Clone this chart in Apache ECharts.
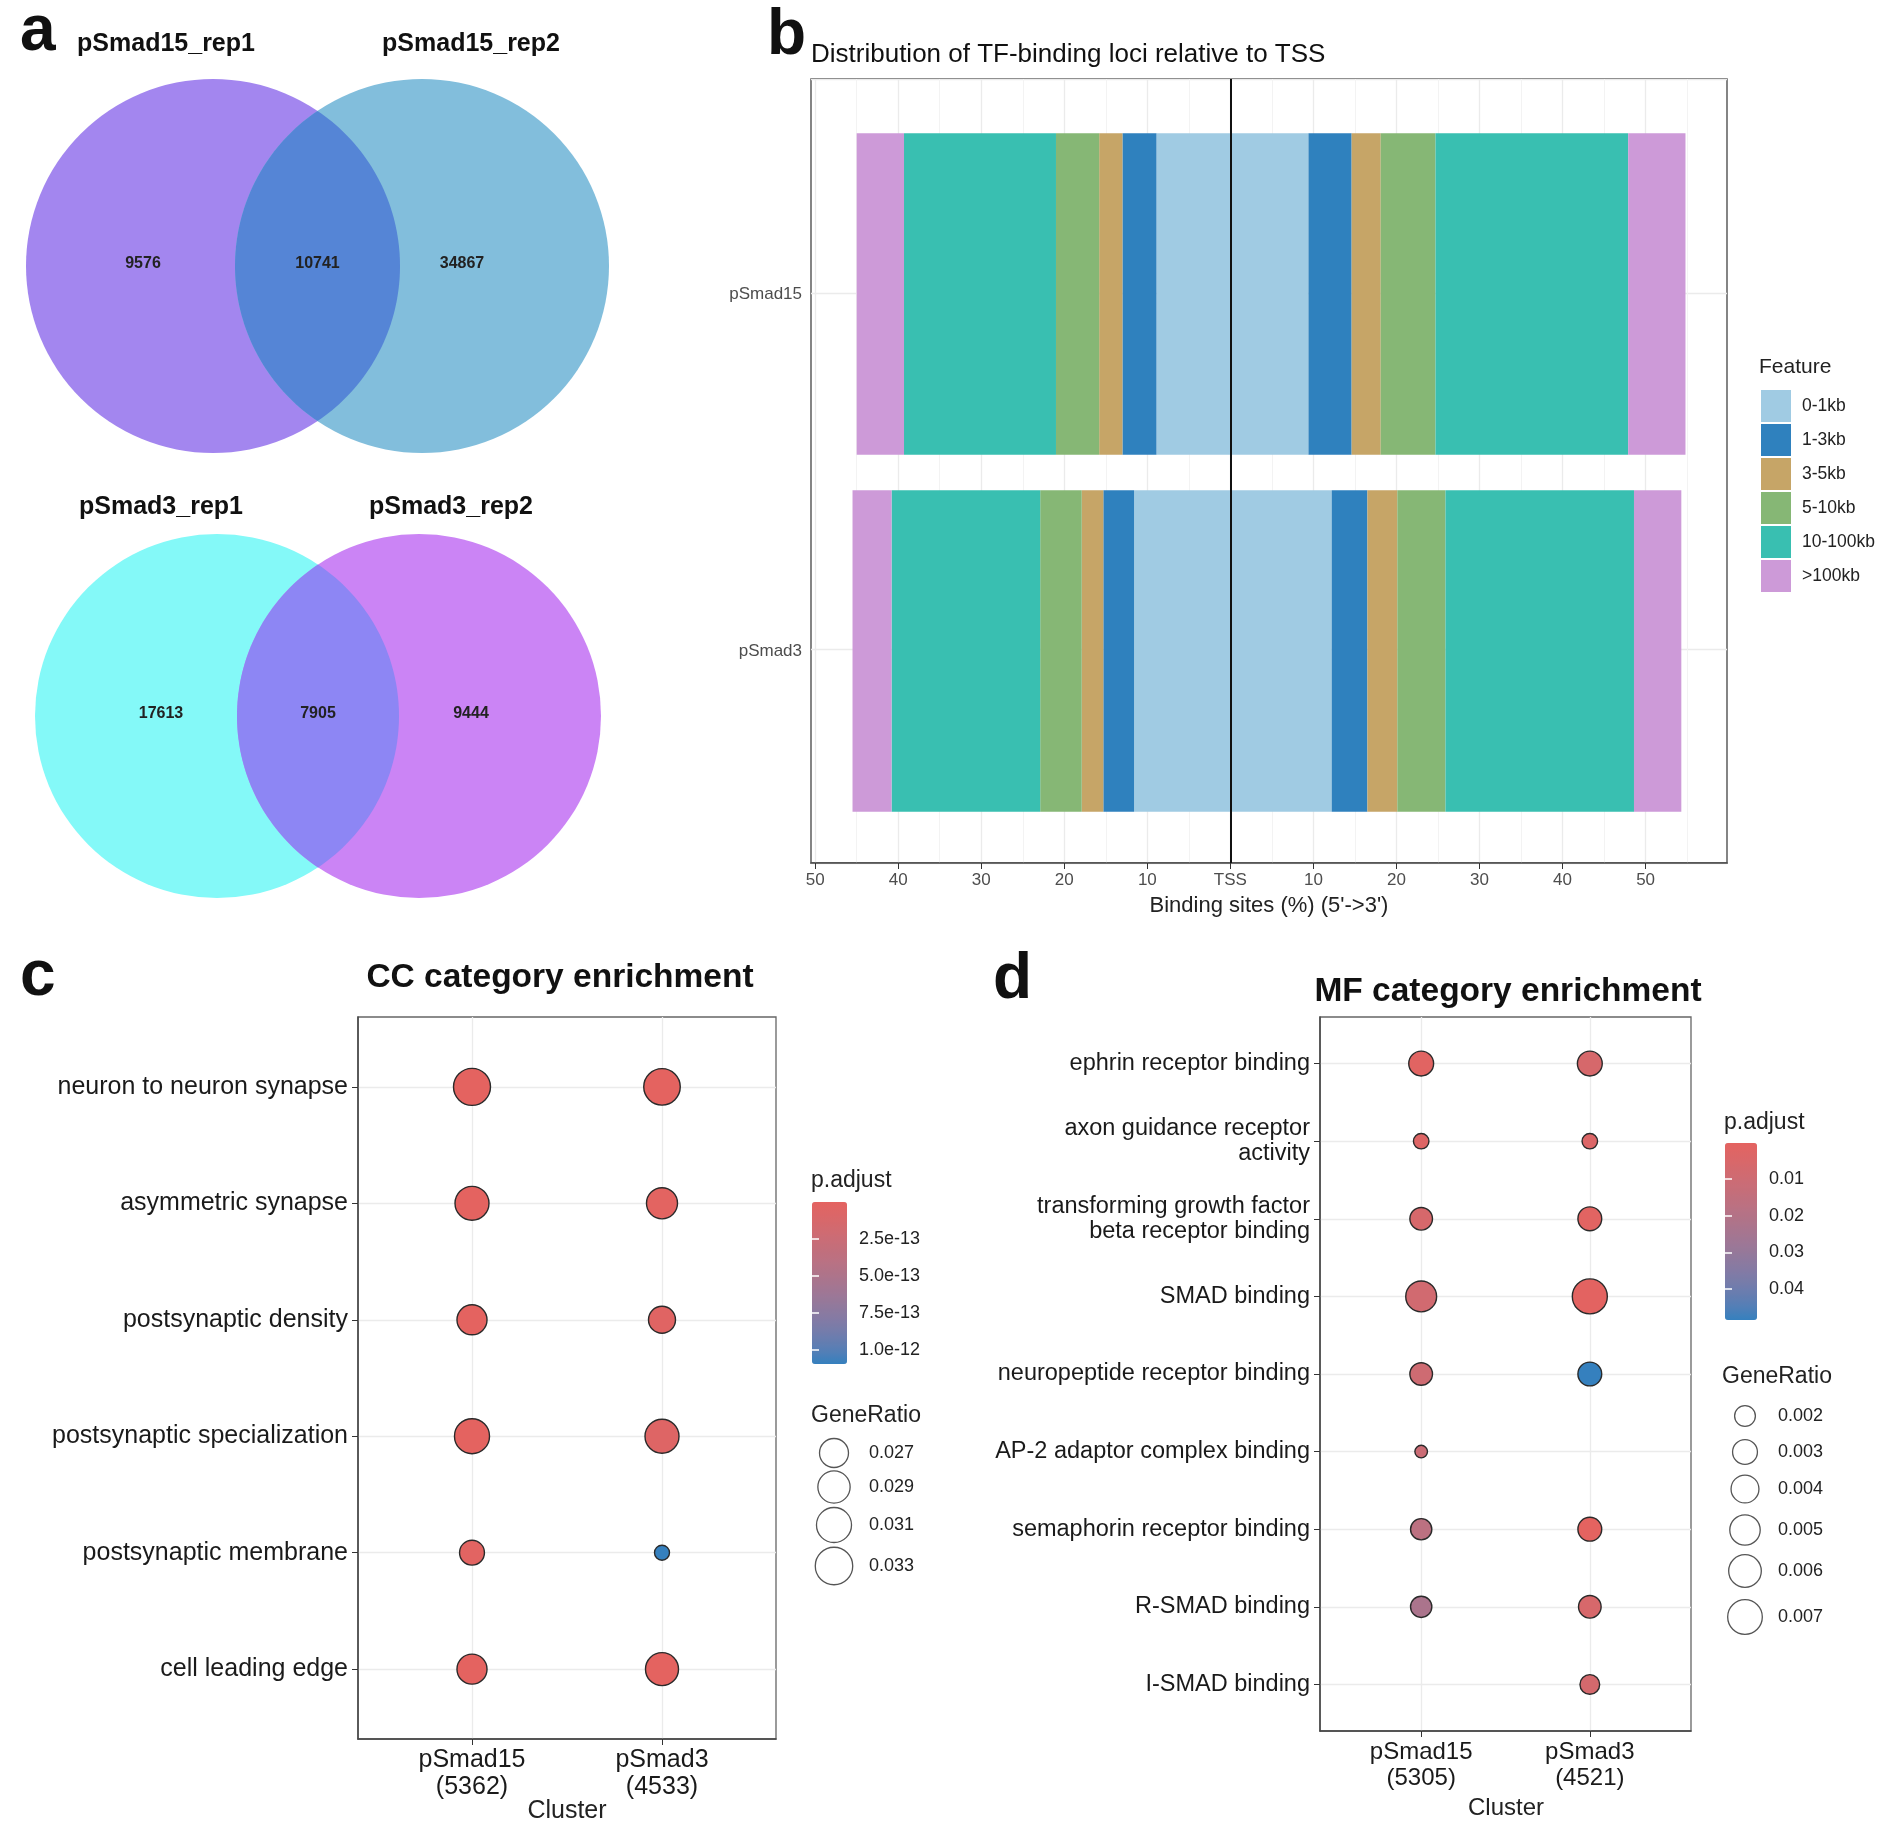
<!DOCTYPE html>
<html><head><meta charset="utf-8">
<script src="https://cdn.jsdelivr.net/npm/echarts@6/dist/echarts.min.js"></script>
<style>html,body{margin:0;padding:0;background:#fff}#c{width:1888px;height:1824px}</style>
</head><body><div id="c"></div>
<script>
// ================= DATA =================
// a: Venn counts [left only, shared, right only]
const vennTopSets = ['pSmad15_rep1', 'pSmad15_rep2'];
const vennTopCounts = [9576, 10741, 34867];
const vennBottomSets = ['pSmad3_rep1', 'pSmad3_rep2'];
const vennBottomCounts = [17613, 7905, 9444];

// b: binding sites (%) relative to TSS, per feature
const tssSamples = ['pSmad15', 'pSmad3'];
const tssFeatures = ['0-1kb', '1-3kb', '3-5kb', '5-10kb', '10-100kb', '>100kb'];
const tssUpPSmad15   = [8.9, 4.1, 2.8, 5.2, 18.3, 5.7];   // 5' (upstream)
const tssDownPSmad15 = [9.4, 5.2, 3.5, 6.6, 23.2, 6.9];   // 3' (downstream)
const tssUpPSmad3    = [11.6, 3.7, 2.6, 5.0, 17.9, 4.7];
const tssDownPSmad3  = [12.2, 4.3, 3.6, 5.8, 22.7, 5.7];
const tssTicks = [-50, -40, -30, -20, -10, 0, 10, 20, 30, 40, 50];

// c: CC enrichment
const ccTerms = ['neuron to neuron synapse', 'asymmetric synapse', 'postsynaptic density',
  'postsynaptic specialization', 'postsynaptic membrane', 'cell leading edge'];
const ccClusters = ['pSmad15\n(5362)', 'pSmad3\n(4533)'];
const ccGeneRatio15 = [0.0326, 0.0302, 0.0276, 0.0310, 0.0251, 0.0276];
const ccGeneRatio3  = [0.0322, 0.0282, 0.0260, 0.0302, 0.0232, 0.0295];
const ccPadj15 = [1e-15, 2e-15, 3e-15, 1e-15, 2e-14, 2e-15];
const ccPadj3  = [5e-15, 1.5e-14, 4e-14, 6e-14, 1.095e-12, 3e-15];
const ccSizeBreaks = [0.027, 0.029, 0.031, 0.033];
const ccColorBreaks = [2.5e-13, 5.0e-13, 7.5e-13, 1.0e-12];

// d: MF enrichment
const mfTerms = ['ephrin receptor binding', 'axon guidance receptor\nactivity',
  'transforming growth factor\nbeta receptor binding', 'SMAD binding', 'neuropeptide receptor binding',
  'AP-2 adaptor complex binding', 'semaphorin receptor binding', 'R-SMAD binding', 'I-SMAD binding'];
const mfClusters = ['pSmad15\n(5305)', 'pSmad3\n(4521)'];
const mfGeneRatio15 = [0.0030, 0.0013, 0.0024, 0.0052, 0.0024, 0.0012, 0.0021, 0.0021, null];
const mfGeneRatio3  = [0.0030, 0.0013, 0.0027, 0.0072, 0.0027, null, 0.0027, 0.0024, 0.0018];
const mfPadj15 = [0.0012, 0.0025, 0.0060, 0.0083, 0.0097, 0.0110, 0.0170, 0.0230, null];
const mfPadj3  = [0.0060, 0.0035, 0.0010, 0.0005, 0.0485, null, 0.0001, 0.0058, 0.0070];
const mfSizeBreaks = [0.002, 0.003, 0.004, 0.005, 0.006, 0.007];
const mfColorBreaks = [0.01, 0.02, 0.03, 0.04];

// ================= HELPERS =================
const FONT = 'Liberation Sans, Arial, Helvetica, sans-serif';
const tssColors = ['#a0cbe3', '#2f81be', '#c6a567', '#86b775', '#39bfb1', '#cd9ad8'];

function hex2rgb(h) { h = h.replace('#', ''); return [0, 2, 4].map(i => parseInt(h.substr(i, 2), 16)); }
function s2l(c) { c /= 255; return c <= 0.04045 ? c / 12.92 : Math.pow((c + 0.055) / 1.055, 2.4); }
function l2s(c) { c = c <= 0.0031308 ? 12.92 * c : 1.055 * Math.pow(c, 1 / 2.4) - 0.055; return Math.max(0, Math.min(255, Math.round(c * 255))); }
const WX = 0.95047, WZ = 1.08883, EPS = 216 / 24389, KAP = 24389 / 27;
function rgb2lab(rgb) {
  const [r, g, b] = rgb.map(s2l);
  const X = (0.4124564 * r + 0.3575761 * g + 0.1804375 * b) / WX;
  const Y = (0.2126729 * r + 0.7151522 * g + 0.0721750 * b);
  const Z = (0.0193339 * r + 0.1191920 * g + 0.9503041 * b) / WZ;
  const f = t => t > EPS ? Math.cbrt(t) : (KAP * t + 16) / 116;
  const fx = f(X), fy = f(Y), fz = f(Z);
  return [116 * fy - 16, 500 * (fx - fy), 200 * (fy - fz)];
}
function lab2hex(lab) {
  const fy = (lab[0] + 16) / 116, fx = fy + lab[1] / 500, fz = fy - lab[2] / 200;
  const inv = f => { const f3 = f * f * f; return f3 > EPS ? f3 : (116 * f - 16) / KAP; };
  const X = inv(fx) * WX, Y = inv(fy), Z = inv(fz) * WZ;
  const r = 3.2404542 * X - 1.5371385 * Y - 0.4985314 * Z;
  const g = -0.9692660 * X + 1.8760108 * Y + 0.0415560 * Z;
  const b = 0.0556434 * X - 0.2040259 * Y + 1.0572252 * Z;
  return '#' + [r, g, b].map(c => l2s(c).toString(16).padStart(2, '0')).join('');
}
function labGradient(c1, c2, n) {
  const a = rgb2lab(hex2rgb(c1)), b = rgb2lab(hex2rgb(c2)), out = [];
  for (let i = 0; i < n; i++) { const t = i / (n - 1); out.push(lab2hex([0, 1, 2].map(k => a[k] + (b[k] - a[k]) * t))); }
  return out;
}
const padjColors = labGradient('#e46360', '#3580be', 15);

function sizeScale(vals, dmin, dmax) {
  const v = vals.filter(x => x != null), lo = Math.min(...v), hi = Math.max(...v);
  return x => dmin + (dmax - dmin) * Math.sqrt(Math.max(0, (x - lo) / (hi - lo)));
}
function dotData(g15, g3, p15, p3) {
  const out = [];
  for (let i = 0; i < g15.length; i++) {
    if (g15[i] != null) out.push([0, i, g15[i], p15[i]]);
    if (g3[i] != null) out.push([1, i, g3[i], p3[i]]);
  }
  return out;
}
const range = a => { const v = a.filter(x => x != null); return [Math.min(...v), Math.max(...v)]; };

const ccSize = sizeScale(ccGeneRatio15.concat(ccGeneRatio3), 15, 37);
const mfSize = sizeScale(mfGeneRatio15.concat(mfGeneRatio3), 12.6, 35);
const ccP = range(ccPadj15.concat(ccPadj3));
const mfP = range(mfPadj15.concat(mfPadj3));

// ================= GRAPHICS (Venn, texts, size legends) =================
const graphics = [];
function txt(x, y, s, size, opts) {
  opts = opts || {};
  graphics.push({ type: 'text', x, y, z: 100, silent: true,
    style: { text: s, font: (opts.weight || 'normal') + ' ' + size + 'px ' + FONT,
      fill: opts.fill || '#111', textAlign: opts.align || 'left', textVerticalAlign: 'middle' } });
}
function lensPoints(cx1, cx2, cy, r) {
  const dx = (cx2 - cx1) / 2, th = Math.acos(dx / r), pts = [], n = 80;
  for (let i = 0; i <= n; i++) { const a = -th + 2 * th * i / n; pts.push([cx1 + r * Math.cos(a), cy + r * Math.sin(a)]); }
  for (let i = 0; i <= n; i++) { const a = Math.PI - th + 2 * th * i / n; pts.push([cx2 + r * Math.cos(a), cy + r * Math.sin(a)]); }
  return pts;
}
function venn(cx1, cx2, cy, r, cols, sets, counts, labY, labX) {
  graphics.push({ type: 'circle', silent: true, shape: { cx: cx1, cy, r }, style: { fill: cols[0] } });
  graphics.push({ type: 'circle', silent: true, shape: { cx: cx2, cy, r }, style: { fill: cols[1] } });
  graphics.push({ type: 'polygon', silent: true, shape: { points: lensPoints(cx1, cx2, cy, r) }, style: { fill: cols[2] } });
  txt(labX[0], labY, sets[0], 25, { weight: 'bold', align: 'center' });
  txt(labX[1], labY, sets[1], 25, { weight: 'bold', align: 'center' });
  const xs = [labX[2], (cx1 + cx2) / 2, labX[3]];
  counts.forEach((c, i) => txt(xs[i], cy - 2, String(c), 16, { weight: 'bold', align: 'center', fill: '#222' }));
}
venn(213, 422, 266, 187, ['#a386ef', '#82bedc', '#5585d6'], vennTopSets, vennTopCounts, 44, [166, 471, 143, 462]);
venn(217, 419, 716, 182, ['#84f9f8', '#cb84f5', '#8d86f4'], vennBottomSets, vennBottomCounts, 507, [161, 451, 161, 471]);

// panel letters
txt(20, 32, 'a', 64, { weight: 'bold' });
txt(767, 36, 'b', 64, { weight: 'bold' });
txt(20, 977, 'c', 64, { weight: 'bold' });
txt(993, 980, 'd', 64, { weight: 'bold' });

// titles
txt(811, 55, 'Distribution of TF-binding loci relative to TSS', 26, { fill: '#111' });
txt(1269, 906, "Binding sites (%) (5'->3')", 22, { align: 'center', fill: '#222' });
txt(1759, 367, 'Feature', 21, { fill: '#222' });
txt(560, 978, 'CC category enrichment', 33.5, { weight: 'bold', align: 'center' });
txt(1508, 992, 'MF category enrichment', 33.5, { weight: 'bold', align: 'center' });
txt(567, 1811, 'Cluster', 25, { align: 'center', fill: '#222' });
txt(1506, 1808, 'Cluster', 24, { align: 'center', fill: '#222' });

// legend titles c/d
txt(811, 1181, 'p.adjust', 23, { fill: '#222' });
txt(811, 1416, 'GeneRatio', 23, { fill: '#222' });
txt(1724, 1123, 'p.adjust', 23, { fill: '#222' });
txt(1722, 1377, 'GeneRatio', 23, { fill: '#222' });

function sizeLegend(breaks, sizeFn, cx, ys, lx) {
  breaks.forEach((b, i) => {
    graphics.push({ type: 'circle', silent: true, z: 100, shape: { cx, cy: ys[i], r: sizeFn(b) / 2 },
      style: { fill: '#fff', stroke: '#555', lineWidth: 1.3 } });
    txt(lx, ys[i], String(b), 18, { fill: '#222' });
  });
}
sizeLegend(ccSizeBreaks, ccSize, 834, [1453, 1487, 1525, 1566], 869);
sizeLegend(mfSizeBreaks, mfSize, 1745, [1416, 1452, 1489, 1530, 1571, 1617], 1778);

// ================= SERIES =================
const series = [];
tssFeatures.forEach((f, k) => {
  const common = { type: 'bar', name: f, stack: 'tss', xAxisIndex: 1, yAxisIndex: 1, barCategoryGap: '10%',
    itemStyle: { color: tssColors[k] }, emphasis: { disabled: true }, silent: true };
  series.push(Object.assign({}, common, { data: [-tssUpPSmad15[k], -tssUpPSmad3[k]] }));
  series.push(Object.assign({}, common, { data: [tssDownPSmad15[k], tssDownPSmad3[k]] }));
});
series.push({ type: 'line', name: 'tss-line', xAxisIndex: 0, yAxisIndex: 0, data: [[0, 1]], symbol: 'none', z: 10,
  lineStyle: { width: 0 },
  markLine: { silent: true, symbol: 'none', label: { show: false }, animation: false,
    lineStyle: { color: '#111', width: 2, type: 'solid' }, data: [{ xAxis: 0 }] } });
const CC_IDX = series.length;
series.push({ type: 'scatter', name: 'CC', xAxisIndex: 2, yAxisIndex: 2, silent: true,
  data: dotData(ccGeneRatio15, ccGeneRatio3, ccPadj15, ccPadj3),
  symbolSize: v => ccSize(v[2]), itemStyle: { borderColor: '#2a2a2a', borderWidth: 1.4, opacity: 1 }, z: 5 });
const MF_IDX = series.length;
series.push({ type: 'scatter', name: 'MF', xAxisIndex: 4, yAxisIndex: 5, silent: true,
  data: dotData(mfGeneRatio15, mfGeneRatio3, mfPadj15, mfPadj3),
  symbolSize: v => mfSize(v[2]), itemStyle: { borderColor: '#2a2a2a', borderWidth: 1.4, opacity: 1 }, z: 5 });

// ================= AXES =================
const gridLine = { show: true, lineStyle: { color: '#ebebeb', width: 1.3 } };
const hidden = { show: false };
const axLine = { show: true, onZero: false, lineStyle: { color: '#444', width: 1.5 } };
const axText = (size, color) => ({ fontSize: size, color: color || '#1a1a1a', fontFamily: FONT });

const grids = [
  { left: 811, top: 79, width: 916, height: 784, show: true, borderColor: '#444', borderWidth: 1.3, backgroundColor: 'transparent' },
  { left: 811, top: 115.5, width: 916, height: 714 },
  { left: 358, top: 1017, width: 418, height: 722, show: true, borderColor: '#666', borderWidth: 1.3, backgroundColor: 'transparent' },
  { left: 812, top: 1202, width: 35, height: 162 },
  { left: 1320, top: 1017, width: 371, height: 714, show: true, borderColor: '#666', borderWidth: 1.3, backgroundColor: 'transparent' },
  { left: 1725, top: 1143, width: 32, height: 177 }
];

const xAxes = [
  { gridIndex: 0, type: 'value', min: -50.5, max: 59.8, minInterval: 10, maxInterval: 10,
    axisLine: axLine,
    axisTick: { show: true, customValues: tssTicks, length: 6, lineStyle: { color: '#333' } },
    axisLabel: Object.assign({ customValues: tssTicks, margin: 9, formatter: v => v === 0 ? 'TSS' : String(Math.abs(v)) }, axText(17, '#4d4d4d')),
    splitLine: gridLine, minorTick: { show: false, splitNumber: 2 },
    minorSplitLine: { show: true, lineStyle: { color: '#f3f3f3', width: 1 } } },
  { gridIndex: 1, type: 'value', min: -50.5, max: 59.8, show: false },
  { gridIndex: 2, type: 'value', min: -0.6, max: 1.6, minInterval: 1, maxInterval: 1,
    axisLine: axLine,
    axisTick: { show: true, customValues: [0, 1], length: 6, lineStyle: { color: '#333' } },
    axisLabel: Object.assign({ customValues: [0, 1], margin: 8, lineHeight: 27, formatter: v => ccClusters[Math.round(v)] || '' }, axText(25)),
    splitLine: gridLine },
  { gridIndex: 3, type: 'value', show: false },
  { gridIndex: 4, type: 'value', min: -0.6, max: 1.6, minInterval: 1, maxInterval: 1,
    axisLine: axLine,
    axisTick: { show: true, customValues: [0, 1], length: 6, lineStyle: { color: '#333' } },
    axisLabel: Object.assign({ customValues: [0, 1], margin: 8, lineHeight: 26, formatter: v => mfClusters[Math.round(v)] || '' }, axText(24)),
    splitLine: gridLine },
  { gridIndex: 5, type: 'value', show: false }
];

const ccIdx = ccTerms.map((_, i) => i), mfIdx = mfTerms.map((_, i) => i);
const yAxes = [
  { gridIndex: 0, type: 'value', min: 0.4, max: 2.6, inverse: true, minInterval: 1, maxInterval: 1,
    axisLine: hidden, axisTick: hidden, axisLabel: hidden, splitLine: gridLine },
  { gridIndex: 1, type: 'category', data: tssSamples, inverse: true,
    axisLine: hidden, axisTick: { show: true, alignWithLabel: true, length: 5, lineStyle: { color: '#333' } },
    axisLabel: Object.assign({ margin: 9 }, axText(17, '#4d4d4d')), splitLine: hidden },
  { gridIndex: 2, type: 'value', min: -0.6, max: ccTerms.length - 0.4, inverse: true, minInterval: 1, maxInterval: 1,
    axisLine: axLine,
    axisTick: { show: true, customValues: ccIdx, length: 6, lineStyle: { color: '#333' } },
    axisLabel: Object.assign({ customValues: ccIdx, margin: 10, formatter: v => ccTerms[Math.round(v)] || '' }, axText(25)),
    splitLine: gridLine },
  { gridIndex: 3, type: 'value', min: ccP[0], max: ccP[1], inverse: true, position: 'right', z: 10,
    axisLine: hidden, splitLine: hidden,
    axisTick: { show: true, inside: true, customValues: ccColorBreaks, length: 7, lineStyle: { color: '#fff', width: 1.5 } },
    axisLabel: Object.assign({ customValues: ccColorBreaks, margin: 12, formatter: v => v.toExponential(1) }, axText(18, '#222')) },
  { gridIndex: 3, type: 'value', min: ccP[0], max: ccP[1], inverse: true, position: 'left', z: 10,
    axisLine: hidden, splitLine: hidden, axisLabel: hidden,
    axisTick: { show: true, inside: true, customValues: ccColorBreaks, length: 7, lineStyle: { color: '#fff', width: 1.5 } } },
  { gridIndex: 4, type: 'value', min: -0.6, max: mfTerms.length - 0.4, inverse: true, minInterval: 1, maxInterval: 1,
    axisLine: axLine,
    axisTick: { show: true, customValues: mfIdx, length: 6, lineStyle: { color: '#333' } },
    axisLabel: Object.assign({ customValues: mfIdx, margin: 10, lineHeight: 25, formatter: v => mfTerms[Math.round(v)] || '' }, axText(23.5)),
    splitLine: gridLine },
  { gridIndex: 5, type: 'value', min: mfP[0], max: mfP[1], inverse: true, position: 'right', z: 10,
    axisLine: hidden, splitLine: hidden,
    axisTick: { show: true, inside: true, customValues: mfColorBreaks, length: 7, lineStyle: { color: '#fff', width: 1.5 } },
    axisLabel: Object.assign({ customValues: mfColorBreaks, margin: 12, formatter: v => String(v) }, axText(18, '#222')) },
  { gridIndex: 5, type: 'value', min: mfP[0], max: mfP[1], inverse: true, position: 'left', z: 10,
    axisLine: hidden, splitLine: hidden, axisLabel: hidden,
    axisTick: { show: true, inside: true, customValues: mfColorBreaks, length: 7, lineStyle: { color: '#fff', width: 1.5 } } }
];

const option = {
  animation: false,
  backgroundColor: '#fff',
  textStyle: { fontFamily: FONT },
  grid: grids,
  xAxis: xAxes,
  yAxis: yAxes,
  legend: { data: tssFeatures, orient: 'vertical', left: 1761, top: 390, padding: 0, itemGap: 2,
    itemWidth: 30, itemHeight: 32, icon: 'rect', selectedMode: false,
    textStyle: { fontSize: 17.5, color: '#222', fontFamily: FONT, padding: [0, 0, 0, 6] } },
  visualMap: [
    { type: 'continuous', seriesIndex: CC_IDX, dimension: 3, min: ccP[0], max: ccP[1], inverse: true,
      orient: 'vertical', left: 812, top: 1202, itemWidth: 35, itemHeight: 162, padding: 0,
      calculable: false, hoverLink: false, realtime: false, inRange: { color: padjColors } },
    { type: 'continuous', seriesIndex: MF_IDX, dimension: 3, min: mfP[0], max: mfP[1], inverse: true,
      orient: 'vertical', left: 1725, top: 1143, itemWidth: 32, itemHeight: 177, padding: 0,
      calculable: false, hoverLink: false, realtime: false, inRange: { color: padjColors } }
  ],
  graphic: graphics,
  series: series
};

const chart = echarts.init(document.getElementById('c'), null, { renderer: 'canvas' });
chart.setOption(option);
</script>
</body></html>
